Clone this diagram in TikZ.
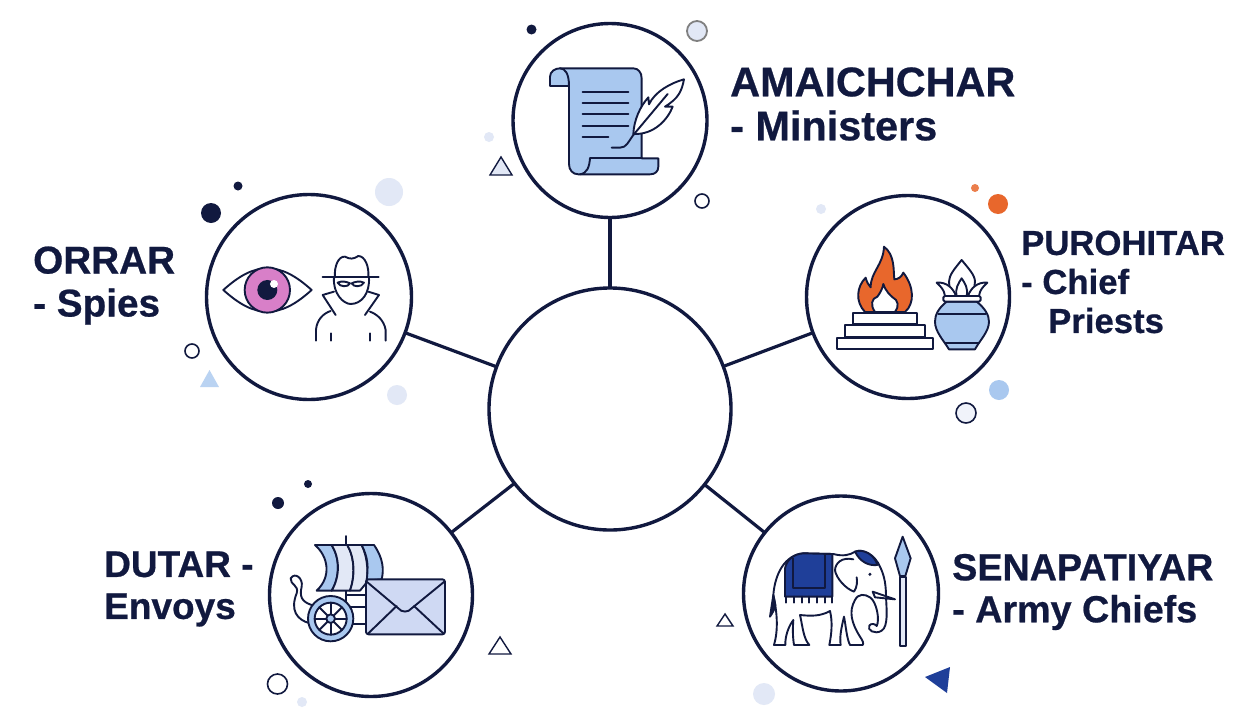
\documentclass[tikz,border=0pt]{standalone}
\usepackage{fontspec}
\setmainfont[BoldFeatures={FakeBold=0.6}]{Liberation Sans}
\definecolor{navy}{HTML}{11193F}
\definecolor{softblue}{HTML}{A9C8EF}
\definecolor{paleblue}{HTML}{E2E8F6}
\definecolor{envblue}{HTML}{CFD9F3}
\definecolor{deepblue}{HTML}{1F3F99}
\definecolor{flame}{HTML}{E8672C}
\definecolor{iris}{HTML}{D87FC8}
\begin{document}
\begin{tikzpicture}[x=1pt, y=-1pt, node distance=100pt]
    \tikzstyle{link} = [line width=3.2pt, draw=navy]
    \tikzstyle{role} = [circle, inner sep=0pt, outer sep=0pt, line width=3.4pt, draw=navy, fill=white]
    \tikzstyle{title} = [anchor=west, align=left, inner sep=0pt, text=navy, font=\bfseries]
    \tikzstyle{icon} = [x=0.3333pt, y=-0.3333pt, line width=1.9pt, draw=navy, line join=round, line cap=round]
    \useasboundingbox (0,0) rectangle (1260,718);
    \fill[white] (0,0) rectangle (1260,718);

    \node[role, minimum size=242pt] at (610,409) (hub){};
    \node[role, minimum size=194pt, above of = hub, yshift = 188.5pt](amaichchar){};
    \node[role, minimum size=203pt, right of = hub, xshift = 198pt, yshift = 112pt](purohitar){};
    \node[role, minimum size=195pt, right of = hub, xshift = 131pt, yshift = -184.5pt](senapatiyar){};
    \node[role, minimum size=203pt, left of = hub, xshift = -139pt, yshift = -186pt](dutar){};
    \node[role, minimum size=205pt, left of = hub, xshift = -201pt, yshift = 112pt](orrar){};

    \draw[link](hub)--(amaichchar);
    \draw[link](hub)--(purohitar);
    \draw[link](hub)--(senapatiyar);
    \draw[link](hub)--(dutar);
    \draw[link](hub)--(orrar);

    \node[right of = amaichchar, xshift = 20pt, yshift = 16.5pt, title, font=\bfseries\fontsize{41.4}{44}\selectfont](t1){AMAICHCHAR\\- Ministers};
    \node[right of = purohitar, xshift = 13pt, yshift = 15pt, title, font=\bfseries\fontsize{34.7}{39}\selectfont](t2){PUROHITAR\\- Chief\\\hspace*{27pt}Priests};
    \node[right of = senapatiyar, xshift = 11pt, yshift = 1.5pt, title, font=\bfseries\fontsize{37.7}{42}\selectfont](t3){SENAPATIYAR\\- Army Chiefs};
    \node[left of = dutar, xshift = -167pt, yshift = 6pt, title, font=\bfseries\fontsize{37}{42}\selectfont](t4){DUTAR -\\Envoys};
    \node[left of = orrar, xshift = -176pt, yshift = 11.5pt, title, font=\bfseries\fontsize{38.7}{43}\selectfont](t5){ORRAR\\- Spies};

    \foreach \px/\py/\rr in {531.5/29.5/5, 278/503/6, 308/484/4, 211/213/10, 238/186/4.5}
        \fill[navy] (\px,\py) circle (\rr);
    \foreach \px/\py/\rr in {489/137/5, 821/209/5, 764/694/11, 302/702/5, 389/192/14, 397/395/10}
        \fill[paleblue] (\px,\py) circle (\rr);
    \foreach \px/\py/\rr in {702/201/7, 277.5/684/10, 192/351/7}
        \draw[navy, line width=1.6pt, fill=white] (\px,\py) circle (\rr);
    \draw[line width=1.8pt, draw=gray, fill=paleblue] (697,31) circle (10);
    \draw[line width=1.6pt, draw=navy, fill=paleblue!50] (966,413) circle (10);
    \fill[flame!85] (975,188) circle (4);
    \fill[flame] (998,204) circle (10);
    \fill[softblue] (999,390) circle (10);
    \draw[line width=1.4pt, draw=navy, fill=paleblue] (490,175)--(501,157)--(512,175)--cycle;
    \draw[line width=1.4pt, draw=navy, fill=white] (717,626)--(725,614)--(733,626)--cycle;
    \draw[line width=1.4pt, draw=navy, fill=white] (489,654)--(500,637)--(511,654)--cycle;
    \fill[softblue!80] (200,387)--(209.5,370)--(219,387)--cycle;
    \fill[deepblue] (925,677)--(950,667)--(947,693)--cycle;

    \begin{scope}[shift={(500,10)}, icon]
        \draw[fill=softblue] (150,228)--(150,200) .. controls (150,185) and (165,175) .. (180,175)--(400,175) .. controls (415,175) and (425,188) .. (425,205)--(425,445)--(475,445)--(475,470) .. controls (475,485) and (465,493) .. (450,493)--(235,493) .. controls (218,493) and (207,480) .. (207,462)--(207,228)--cycle;
        \draw (180,175) .. controls (195,175) and (207,190) .. (207,228);
        \draw (270,445)--(425,445);
        \draw (270,445) .. controls (268,470) and (262,490) .. (240,493);
        \foreach \ly in {246,280,313,347}
            \draw (248,\ly)--(385,\ly);
        \draw (248,380)--(325,380);
        \draw (335,413)--(360,413) .. controls (380,413) and (385,395) .. (400,375);
        \draw[fill=white] (400,372) .. controls (402,330) and (420,290) .. (445,262) -- (447,283) .. controls (465,245) and (510,220) .. (552,208) .. controls (545,245) and (535,265) .. (495,290)--(518,290) .. controls (505,325) and (465,375) .. (400,372)--cycle;
        \draw (400,375)--(503,252);
    \end{scope}

    \begin{scope}[shift={(800,180)}, icon]
        \draw[fill=flame] (195,396) .. controls (165,365) and (170,320) .. (197,293) .. controls (200,305) and (205,315) .. (212,322) .. controls (212,275) and (250,255) .. (252,200) .. controls (285,225) and (280,270) .. (283,298) .. controls (295,298) and (305,290) .. (310,278) .. controls (342,320) and (345,370) .. (315,396)--cycle;
        \draw[fill=white] (225,396) .. controls (210,375) and (215,355) .. (232,350) .. controls (240,340) and (248,325) .. (250,312) .. controls (258,335) and (270,345) .. (278,352) .. controls (295,360) and (298,380) .. (285,396)--cycle;
        \draw[fill=white] (110,473) rectangle (400,508);
        \draw[fill=white] (135,435) rectangle (375,470);
        \draw[fill=white] (158,398) rectangle (350,432);
        \draw[fill=white] (485,240) .. controls (465,265) and (447,285) .. (447,305) .. controls (447,325) and (455,340) .. (465,348)--(505,348) .. controls (515,340) and (525,325) .. (525,305) .. controls (525,285) and (505,265) .. (485,240)--cycle;
        \draw[fill=white] (410,308) .. controls (440,305) and (460,325) .. (468,348)--(435,348) .. controls (432,330) and (425,322) .. (410,308)--cycle;
        \draw[fill=white] (562,308) .. controls (532,305) and (512,325) .. (504,348)--(537,348) .. controls (540,330) and (547,322) .. (562,308)--cycle;
        \draw[fill=white] (485,295) .. controls (475,310) and (465,325) .. (470,348)--(500,348) .. controls (505,325) and (495,310) .. (485,295)--cycle;
        \draw[fill=softblue] (440,365) .. controls (415,385) and (405,405) .. (405,425) .. controls (405,455) and (430,480) .. (447,508)--(525,508) .. controls (540,480) and (567,455) .. (567,425) .. controls (567,405) and (555,385) .. (530,365)--cycle;
        \draw (415,403)--(557,403);
        \draw (436,490)--(537,490);
        \draw[fill=white, rounded corners=1.5pt] (430,348) rectangle (542,365);
    \end{scope}

    \begin{scope}[shift={(720,480)}, icon]
        \draw[fill=white] (160,345) .. controls (165,280) and (195,225) .. (250,220)--(340,222) .. controls (370,230) and (390,225) .. (405,215) .. controls (430,205) and (465,225) .. (480,260) .. controls (495,290) and (498,320) .. (498,350) .. controls (500,390) and (505,440) .. (485,452) .. controls (465,465) and (440,450) .. (448,437) .. controls (452,430) and (465,430) .. (470,438) .. controls (480,420) and (470,365) .. (450,352) .. controls (435,342) and (415,340) .. (405,360) .. controls (385,395) and (395,430) .. (420,470) .. controls (428,482) and (432,490) .. (428,495)--(390,495) .. controls (380,475) and (378,440) .. (372,410) .. controls (365,440) and (358,470) .. (362,495)--(328,495) .. controls (335,460) and (338,425) .. (330,393) .. controls (300,410) and (270,408) .. (240,405) .. controls (248,440) and (250,475) .. (268,495)--(222,495) .. controls (218,470) and (218,445) .. (220,420) .. controls (205,440) and (195,470) .. (196,495)--(162,495) .. controls (175,450) and (172,400) .. (160,345)--cycle;
        \draw[fill=navy] (160,345)--(150,410) .. controls (160,395) and (165,385) .. (166,375)--cycle;
        \draw[fill=deepblue] (195,350)--(195,265) .. controls (200,240) and (220,222) .. (250,220)--(337,222)--(337,350)--cycle;
        \draw (218,235)--(218,325)--(315,325)--(315,225);
        \foreach \fx in {197,222,245,268,292,315,335}
            \draw (\fx,350)--(\fx,368);
        \draw[fill=deepblue] (405,215) .. controls (430,205) and (465,225) .. (472,255) .. controls (445,258) and (420,245) .. (405,215)--cycle;
        \draw[fill=white] (400,238) .. controls (365,230) and (345,250) .. (345,272) .. controls (350,295) and (375,325) .. (402,335) .. controls (412,320) and (412,305) .. (410,292);
        \fill[navy] (450,283) circle (5);
        \draw[fill=white] (458,335)--(525,358)--(465,352)--cycle;
        \draw[fill=paleblue] (540,290) rectangle (557,497);
        \draw[fill=softblue] (548,170)--(572,235)--(556,288)--(540,288)--(525,235)--cycle;
    \end{scope}

    \begin{scope}[shift={(260,470)}, icon]
        \draw[fill=white] (150,460) .. controls (110,450) and (90,420) .. (110,370) .. controls (118,345) and (90,345) .. (92,325) .. controls (105,305) and (130,325) .. (125,350) .. controls (118,380) and (125,395) .. (155,405);
        \draw (259,198)--(259,460);
        \draw (259,375)--(320,375);
        \draw (259,410)--(320,410);
        \draw (150,462)--(320,462);
        \draw[fill=softblue] (165,225)--(215,225) .. controls (240,265) and (240,320) .. (215,362)--(170,362) .. controls (215,320) and (205,260) .. (165,225)--cycle;
        \draw[fill=paleblue] (215,225)--(262,225) .. controls (285,265) and (285,320) .. (270,362)--(215,362) .. controls (240,320) and (240,265) .. (215,225)--cycle;
        \draw[fill=paleblue] (262,225)--(305,225) .. controls (325,265) and (325,320) .. (318,340)--(300,362)--(270,362) .. controls (285,320) and (285,265) .. (262,225)--cycle;
        \draw[fill=softblue] (305,225)--(342,225) .. controls (370,265) and (372,300) .. (365,328)--(320,332) .. controls (325,290) and (325,265) .. (305,225)--cycle;
        \draw[fill=softblue] (212,446) circle (68);
        \draw[fill=white] (212,446) circle (48);
        \foreach \sa in {0,45,...,315}
            \draw (212,446)--++(\sa:48);
        \draw[fill=softblue] (212,446) circle (13);
        \draw[fill=envblue, rounded corners=2.5pt] (318,328) rectangle (555,493);
        \draw (320,335)--(415,415) .. controls (425,428) and (445,428) .. (455,415)--(553,335);
        \draw (325,490)--(410,408);
        \draw (550,490)--(462,408);
    \end{scope}

    \begin{scope}[shift={(180,170)}, icon]
        \draw[fill=white] (130,360) .. controls (180,315) and (220,295) .. (262,295) .. controls (305,295) and (345,315) .. (395,360) .. controls (345,405) and (305,425) .. (262,425) .. controls (220,425) and (180,405) .. (130,360)--cycle;
        \draw[fill=iris, draw=navy] (262,360) circle (68);
        \fill[navy] (262,360) circle (30);
        \fill[white] (282,342) circle (12);
        \draw (428,322)--(596,322);
        \draw (465,322) .. controls (462,290) and (475,258) .. (495,260) .. controls (510,268) and (520,268) .. (535,258) .. controls (555,258) and (568,290) .. (565,322);
        \draw (462,322) .. controls (458,370) and (490,402) .. (512,402) .. controls (545,402) and (570,370) .. (567,322);
        \draw (473,338) .. controls (485,332) and (500,335) .. (510,340) .. controls (505,352) and (480,352) .. (473,338)--cycle;
        \draw (552,338) .. controls (540,332) and (525,335) .. (515,340) .. controls (520,352) and (545,352) .. (552,338)--cycle;
        \draw (462,365)--(428,375)--(467,435);
        \draw (565,365)--(597,375)--(555,435);
        \draw (408,512)--(408,480) .. controls (410,450) and (430,430) .. (452,423);
        \draw (617,512)--(617,480) .. controls (612,450) and (590,432) .. (570,425);
        \draw (454,490)--(454,512);
        \draw (571,490)--(571,512);
    \end{scope}
\end{tikzpicture}
\end{document}
